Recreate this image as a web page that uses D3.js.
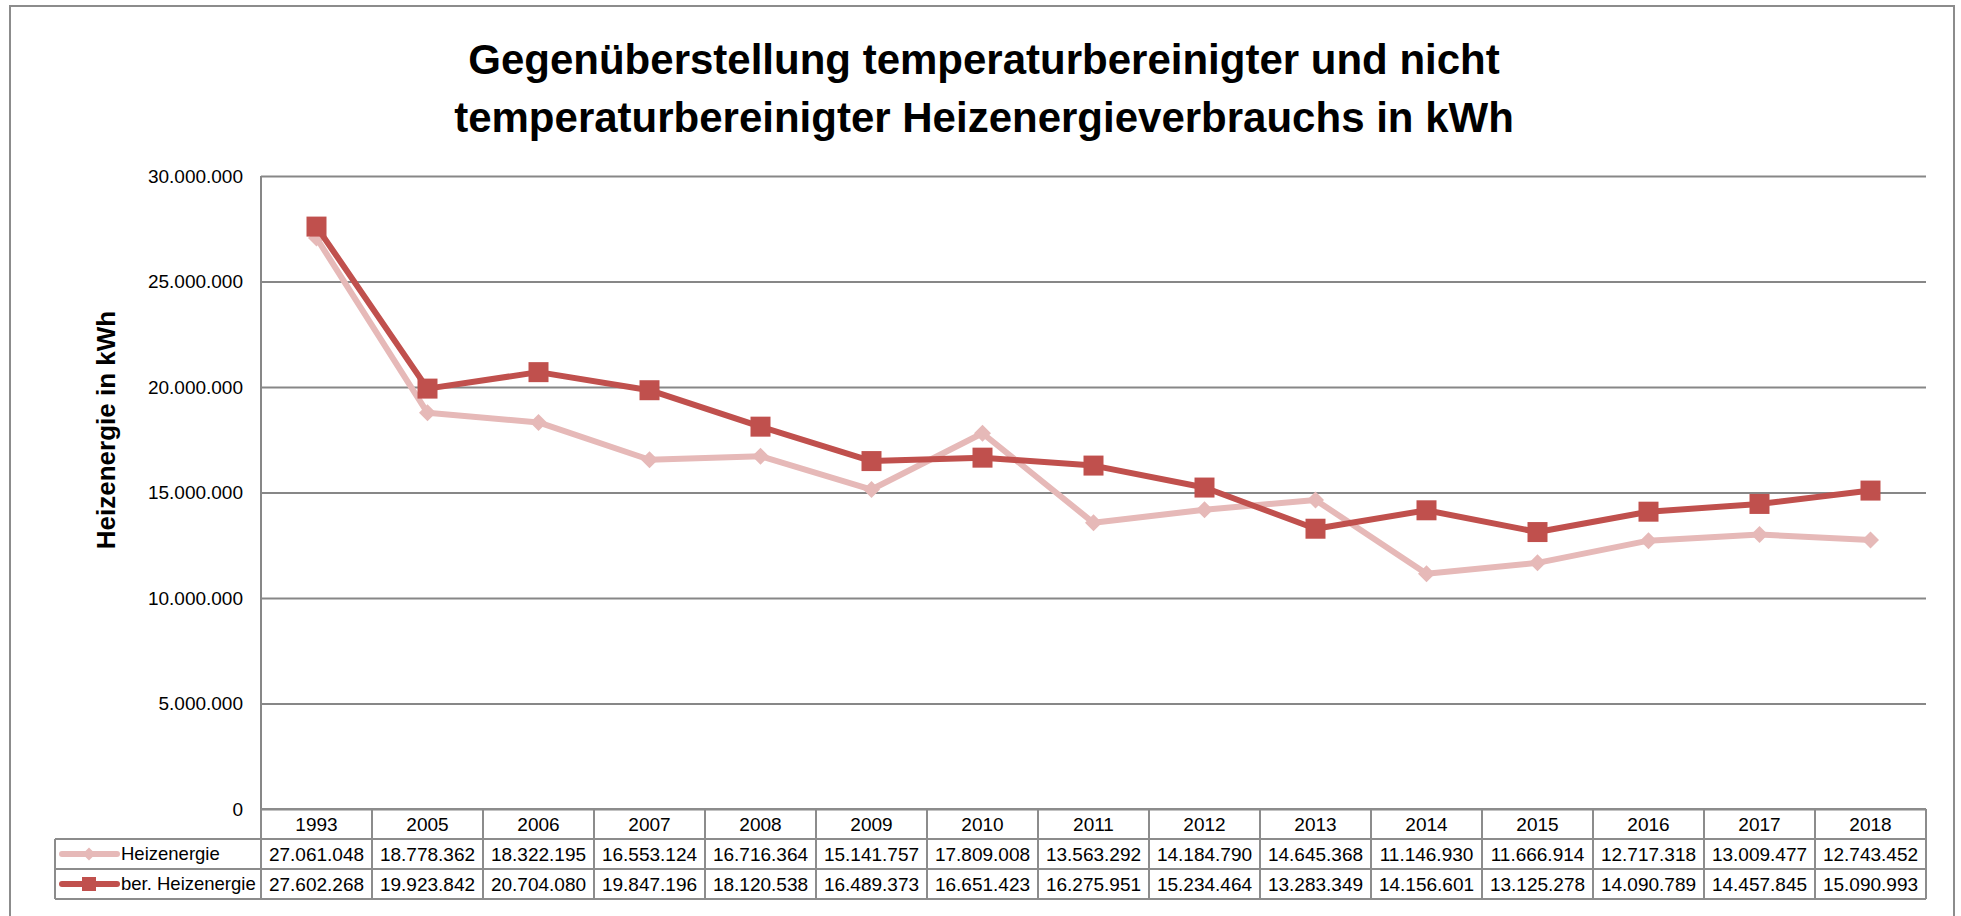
<!DOCTYPE html>
<html>
<head>
<meta charset="utf-8">
<script src="https://cdn.jsdelivr.net/npm/d3@7"></script>
<style>
  body { margin: 0; background: #fff; }
  text { font-family: "Liberation Sans", Arial, sans-serif; }
</style>
</head>
<body>
<div id="chart"></div>
<script>
// values
var years = ["1993", "2005", "2006", "2007", "2008", "2009", "2010", "2011", "2012", "2013", "2014", "2015", "2016", "2017", "2018"];
var heizenergie = [27061048, 18778362, 18322195, 16553124, 16716364, 15141757, 17809008, 13563292, 14184790, 14645368, 11146930, 11666914, 12717318, 13009477, 12743452];
var berHeizenergie = [27602268, 19923842, 20704080, 19847196, 18120538, 16489373, 16651423, 16275951, 15234464, 13283349, 14156601, 13125278, 14090789, 14457845, 15090993];
var yTicks = [0, 5000000, 10000000, 15000000, 20000000, 25000000, 30000000];
var titleLines = ["Gegenüberstellung temperaturbereinigter und nicht", "temperaturbereinigter Heizenergieverbrauchs in kWh"];

var series = [
  { name: "Heizenergie", values: heizenergie, color: "#e6b9b8", marker: "diamond" },
  { name: "ber. Heizenergie", values: berHeizenergie, color: "#c0504d", marker: "square" }
];

var W = 1961, H = 916;
var plot = { left: 261, right: 1926, top: 176, bottom: 809 };
var rowH = 30;
var legendLeft = 55;
var gridColor = "#878787";

var de = d3.formatLocale({ decimal: ",", thousands: ".", grouping: [3], currency: ["", " €"] });
var fmt = de.format(",d");

var svg = d3.select("#chart").append("svg")
  .attr("width", W).attr("height", H);

// chart border (bottom edge runs off the picture)
svg.append("rect")
  .attr("x", 10).attr("y", 6)
  .attr("width", 1944).attr("height", 940)
  .attr("fill", "none").attr("stroke", "#8c8c8c").attr("stroke-width", 2);

// title
svg.append("g").selectAll("text")
  .data(titleLines).enter().append("text")
  .attr("x", 984)
  .attr("y", function(d, i) { return 74 + i * 58; })
  .attr("text-anchor", "middle")
  .attr("font-size", 42)
  .attr("font-weight", "bold")
  .attr("fill", "#000")
  .text(function(d) { return d; });

var x = d3.scaleBand().domain(years).range([plot.left, plot.right]).padding(0);
var y = d3.scaleLinear().domain([0, 30000000]).range([plot.bottom, plot.top]);

// gridlines + y axis labels
var yAxis = d3.axisLeft(y)
  .tickValues(yTicks)
  .tickSize(-(plot.right - plot.left))
  .tickPadding(18)
  .tickFormat(fmt);

var gy = svg.append("g")
  .attr("transform", "translate(" + plot.left + ",0)")
  .call(yAxis);
gy.select(".domain").remove();
gy.selectAll(".tick line").attr("stroke", gridColor).attr("stroke-width", 2);
gy.selectAll(".tick text")
  .attr("font-size", 19)
  .attr("fill", "#000")
  .style("font-family", "'Liberation Sans', Arial, sans-serif");

// left edge of the plot area
svg.append("line")
  .attr("x1", plot.left).attr("x2", plot.left)
  .attr("y1", plot.top).attr("y2", plot.bottom)
  .attr("stroke", gridColor).attr("stroke-width", 2);

// y axis title
svg.append("text")
  .attr("transform", "translate(115,430) rotate(-90)")
  .attr("text-anchor", "middle")
  .attr("font-size", 26)
  .attr("font-weight", "bold")
  .text("Heizenergie in kWh");

// data table
var table = svg.append("g");
var tableBottom = plot.bottom + rowH * 3;

// horizontal lines
table.append("line")
  .attr("x1", plot.left).attr("x2", plot.right)
  .attr("y1", plot.bottom).attr("y2", plot.bottom);
[1, 2, 3].forEach(function(r) {
  table.append("line")
    .attr("x1", legendLeft).attr("x2", plot.right)
    .attr("y1", plot.bottom + r * rowH).attr("y2", plot.bottom + r * rowH);
});
// vertical lines
years.forEach(function(yr) {
  table.append("line")
    .attr("x1", x(yr)).attr("x2", x(yr))
    .attr("y1", plot.bottom).attr("y2", tableBottom);
});
table.append("line")
  .attr("x1", plot.right).attr("x2", plot.right)
  .attr("y1", plot.bottom).attr("y2", tableBottom);
table.append("line")
  .attr("x1", legendLeft).attr("x2", legendLeft)
  .attr("y1", plot.bottom + rowH).attr("y2", tableBottom);
table.selectAll("line").attr("stroke", "#8c8c8c").attr("stroke-width", 2);

// header row: years
table.selectAll(".yr").data(years).enter().append("text")
  .attr("class", "yr")
  .attr("x", function(d) { return x(d) + x.bandwidth() / 2; })
  .attr("y", plot.bottom + rowH / 2)
  .attr("dy", "0.35em")
  .attr("text-anchor", "middle")
  .attr("font-size", 19)
  .text(function(d) { return d; });

function markerPath(type, size) {
  var s = size / 2;
  if (type == "square") return "M" + (-s) + "," + (-s) + "h" + size + "v" + size + "h" + (-size) + "Z";
  return "M0," + (-s) + "L" + s + ",0L0," + s + "L" + (-s) + ",0Z";
}

series.forEach(function(s, si) {
  var rowY = plot.bottom + rowH * (si + 1);

  // legend key
  var key = table.append("g").attr("transform", "translate(0," + (rowY + rowH / 2) + ")");
  key.append("line")
    .attr("x1", 62).attr("x2", 117)
    .attr("stroke", s.color).attr("stroke-width", 6)
    .attr("stroke-linecap", "round");
  key.append("path")
    .attr("transform", "translate(89,0)")
    .attr("d", markerPath(s.marker, s.marker == "square" ? 14 : 13))
    .attr("fill", s.color);
  key.append("text")
    .attr("x", 121).attr("dy", "0.35em")
    .attr("font-size", 18.5)
    .text(s.name);

  table.selectAll(".v" + si).data(s.values).enter().append("text")
    .attr("class", "v" + si)
    .attr("x", function(d, i) { return x(years[i]) + x.bandwidth() / 2; })
    .attr("y", rowY + rowH / 2)
    .attr("dy", "0.35em")
    .attr("text-anchor", "middle")
    .attr("font-size", 19)
    .text(function(d) { return fmt(d); });
});

// lines and markers
var line = d3.line()
  .x(function(d, i) { return x(years[i]) + x.bandwidth() / 2; })
  .y(function(d) { return y(d); });

series.forEach(function(s) {
  var g = svg.append("g");
  g.append("path")
    .datum(s.values)
    .attr("d", line)
    .attr("fill", "none")
    .attr("stroke", s.color)
    .attr("stroke-width", 6)
    .attr("stroke-linejoin", "round");
  g.selectAll("path.m").data(s.values).enter().append("path")
    .attr("class", "m")
    .attr("transform", function(d, i) {
      return "translate(" + (x(years[i]) + x.bandwidth() / 2) + "," + y(d) + ")";
    })
    .attr("d", markerPath(s.marker, s.marker == "square" ? 20 : 17))
    .attr("fill", s.color);
});
</script>
</body>
</html>
